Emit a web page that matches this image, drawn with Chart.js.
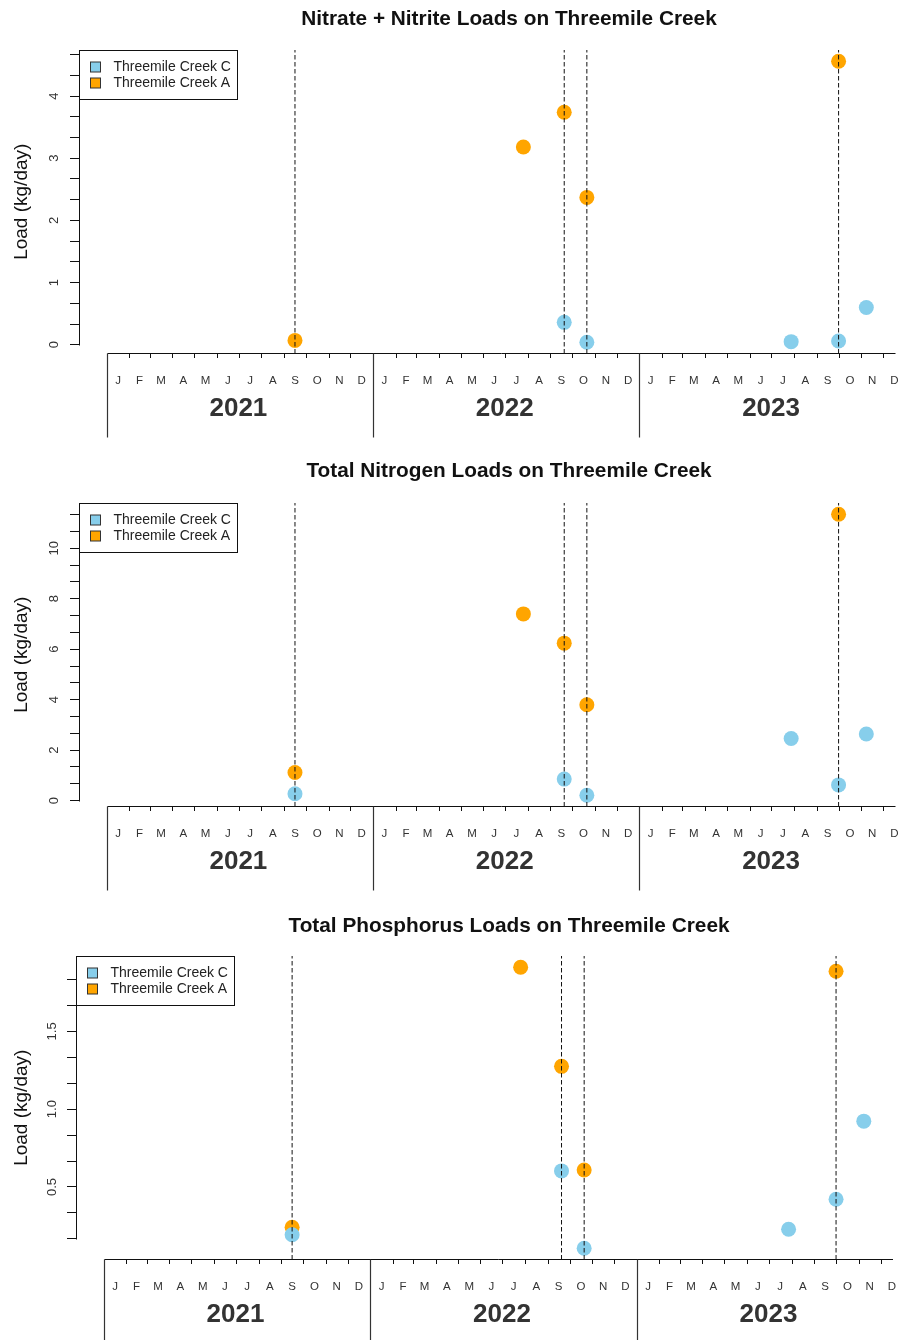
<!DOCTYPE html>
<html>
<head>
<meta charset="utf-8">
<title>Threemile Creek Loads</title>
<script src="https://cdn.jsdelivr.net/npm/chart.js@4.4.1/dist/chart.umd.min.js"></script>
<style>
  html, body { margin: 0; padding: 0; background: #ffffff; }
  #page { position: relative; width: 903px; height: 1340px; overflow: hidden; }
  .panel { position: absolute; left: 0; width: 903px; }
  .panel h2 {
    position: absolute; margin: 0; left: 115px; width: 788px; height: 24px;
    text-align: center; white-space: nowrap; color: #111;
    font: bold 20.8px "Liberation Sans", Arial, sans-serif; line-height: 24px;
  }
  .panel canvas { position: absolute; left: 0; top: 0; }
</style>
</head>
<body>
<div id="page"></div>
<script>
// ---- Data: sampling dates and daily loads (kg/day) at the two sites ----
const seriesNames = ['Threemile Creek C', 'Threemile Creek A'];
const monthLabels = ['J', 'F', 'M', 'A', 'M', 'J', 'J', 'A', 'S', 'O', 'N', 'D'];
const yearLabels = ['2021', '2022', '2023'];
const eventDates = ['2021-09-16', '2022-09-20', '2022-10-21', '2023-10-01'];

const no3DatesC = ['2022-09-20', '2022-10-21', '2023-07-28', '2023-10-01', '2023-11-08'];
const no3LoadC  = [0.36, 0.04, 0.05, 0.06, 0.60];
const no3DatesA = ['2021-09-16', '2022-07-26', '2022-09-20', '2022-10-21', '2023-10-01'];
const no3LoadA  = [0.07, 3.18, 3.74, 2.37, 4.56];

const tnDatesC = ['2021-09-16', '2022-09-20', '2022-10-21', '2023-07-28', '2023-10-01', '2023-11-08'];
const tnLoadC  = [0.27, 0.85, 0.21, 2.46, 0.62, 2.64];
const tnDatesA = ['2021-09-16', '2022-07-26', '2022-09-20', '2022-10-21', '2023-10-01'];
const tnLoadA  = [1.11, 7.40, 6.24, 3.80, 11.35];

const tpDatesC = ['2021-09-16', '2022-09-20', '2022-10-21', '2023-07-28', '2023-10-01', '2023-11-08'];
const tpLoadC  = [0.193, 0.603, 0.106, 0.228, 0.421, 0.923];
const tpDatesA = ['2021-09-16', '2022-07-26', '2022-09-20', '2022-10-21', '2023-10-01'];
const tpLoadA  = [0.241, 1.912, 1.275, 0.609, 1.886];

const panelTitles = [
  'Nitrate + Nitrite Loads on Threemile Creek',
  'Total Nitrogen Loads on Threemile Creek',
  'Total Phosphorus Loads on Threemile Creek'
];
const yAxisTitle = 'Load (kg/day)';
const yMajorSteps = [1, 2, 0.5];
const yLabelDecimals = [0, 0, 1];
const xRange = ['2020-11-24', '2023-12-18'];

// ---- Styling ----
const FONT = '"Liberation Sans", Arial, Helvetica, sans-serif';
const COLOR_C = '#87CEEB';
const COLOR_A = '#FFA500';
Chart.defaults.font.family = FONT;

const panels = [
  { title: panelTitles[0], datesC: no3DatesC, loadC: no3LoadC, datesA: no3DatesA, loadA: no3LoadA,
    major: yMajorSteps[0], decimals: yLabelDecimals[0], top: 0, height: 453, titleTop: 6,
    axisLeft: 79, plotRight: 898, labelPad: 11.5 },
  { title: panelTitles[1], datesC: tnDatesC, loadC: tnLoadC, datesA: tnDatesA, loadA: tnLoadA,
    major: yMajorSteps[1], decimals: yLabelDecimals[1], top: 453, height: 453, titleTop: 5,
    axisLeft: 79, plotRight: 898, labelPad: 8 },
  { title: panelTitles[2], datesC: tpDatesC, loadC: tpLoadC, datesA: tpDatesA, loadA: tpLoadA,
    major: yMajorSteps[2], decimals: yLabelDecimals[2], top: 906, height: 434, titleTop: 7,
    axisLeft: 76, plotRight: 893, labelPad: 6 }
];

const DAY0 = Date.UTC(2021, 0, 1);
const toDay = s => (Date.parse(s + 'T00:00:00Z') - DAY0) / 86400000;
const utcDay = (y, m, d) => (Date.UTC(y, m, d) - DAY0) / 86400000;

// R-style axis range: data range widened by 4% on each side
function paddedRange(vals) {
  const lo = Math.min(...vals), hi = Math.max(...vals), e = (hi - lo) * 0.04;
  return [lo - e, hi + e];
}

// Draws the detached y axis line, the month/year axis band and the boxed legend
const rStylePlugin = {
  id: 'rStyle',
  afterDraw(chart) {
    const { ctx, chartArea: ca, scales: { x, y } } = chart;
    ctx.save();

    // y axis line spanning the outermost tick marks
    const ticks = y.ticks;
    const ax = Math.round(ca.left) + 0.5;
    ctx.strokeStyle = '#111';
    ctx.lineWidth = 1;
    ctx.beginPath();
    ctx.moveTo(ax, Math.round(y.getPixelForValue(ticks[0].value)) + 0.5);
    ctx.lineTo(ax, Math.round(y.getPixelForValue(ticks[ticks.length - 1].value)) + 0.5);
    ctx.stroke();

    // time axis: base line, month ticks, year separators, labels
    const base = Math.round(ca.bottom - 0.5) + 0.5;
    const firstYear = Number(yearLabels[0]);
    const xStart = Math.round(x.getPixelForValue(utcDay(firstYear, 0, 1))) + 0.5;
    ctx.beginPath();
    ctx.moveTo(xStart, base);
    ctx.lineTo(ca.right, base);
    ctx.stroke();

    yearLabels.forEach((label, yi) => {
      const yr = firstYear + yi;
      for (let m = 0; m < 12; m++) {
        const d0 = utcDay(yr, m, 1), d1 = utcDay(yr, m + 1, 1);
        const px = Math.round(x.getPixelForValue(d0)) + 0.5;
        ctx.beginPath();
        if (m === 0) {
          ctx.strokeStyle = '#333';
          ctx.lineWidth = 1.2;
          ctx.moveTo(px, base);
          ctx.lineTo(px, base + 84);
        } else {
          ctx.strokeStyle = '#111';
          ctx.lineWidth = 1;
          ctx.moveTo(px, base);
          ctx.lineTo(px, base + 4.5);
        }
        ctx.stroke();

        ctx.fillStyle = '#333';
        ctx.font = '11.5px ' + FONT;
        ctx.textAlign = 'center';
        ctx.textBaseline = 'middle';
        ctx.fillText(monthLabels[m], x.getPixelForValue((d0 + d1) / 2), base + 27);
      }
      const ymid = (utcDay(yr, 0, 1) + utcDay(yr + 1, 0, 1)) / 2;
      ctx.fillStyle = '#333';
      ctx.font = 'bold 26px ' + FONT;
      ctx.fillText(label, x.getPixelForValue(ymid) - 1.5, base + 55);
    });

    // legend box in the top-left corner of the plot region
    const items = chart.data.datasets.filter(ds => ds.inLegend);
    const lx = Math.round(ca.left) + 0.5, ly = Math.round(ca.top) + 0.5;
    ctx.fillStyle = '#ffffff';
    ctx.fillRect(lx, ly, 158, 49);
    ctx.strokeStyle = '#111';
    ctx.lineWidth = 1;
    ctx.strokeRect(lx, ly, 158, 49);
    items.forEach((ds, i) => {
      const cy = ly + 16.5 + i * 16.3;
      ctx.fillStyle = ds.pointBackgroundColor;
      ctx.fillRect(lx + 11, Math.round(cy - 5), 10, 10);
      ctx.strokeStyle = '#333';
      ctx.strokeRect(lx + 11, Math.round(cy - 5), 10, 10);
      ctx.fillStyle = '#222';
      ctx.font = '14px ' + FONT;
      ctx.textAlign = 'left';
      ctx.textBaseline = 'middle';
      ctx.fillText(ds.label, lx + 34, cy);
    });
    ctx.restore();
  }
};

const page = document.getElementById('page');

panels.forEach(p => {
  const wrap = document.createElement('div');
  wrap.className = 'panel';
  wrap.style.top = p.top + 'px';
  wrap.style.height = p.height + 'px';
  const h = document.createElement('h2');
  h.textContent = p.title;
  h.style.top = p.titleTop + 'px';
  const canvas = document.createElement('canvas');
  canvas.width = 903;
  canvas.height = p.height;
  canvas.style.width = '903px';
  canvas.style.height = p.height + 'px';
  wrap.appendChild(canvas);
  wrap.appendChild(h);
  page.appendChild(wrap);

  const [yMin, yMax] = paddedRange(p.loadC.concat(p.loadA));
  const step = p.major / 3;

  const pointSet = (label, dates, loads, color, order) => ({
    label, order, inLegend: true,
    data: dates.map((d, i) => ({ x: toDay(d), y: loads[i] })),
    pointBackgroundColor: color, pointBorderColor: color, backgroundColor: color,
    pointBorderWidth: 0, pointRadius: 7.5, pointHoverRadius: 7.5, showLine: false
  });

  const guides = eventDates.map(d => ({
    label: d, order: 0, inLegend: false,
    data: [{ x: toDay(d), y: yMin }, { x: toDay(d), y: yMax }],
    showLine: true, borderColor: '#111', borderWidth: 1, borderDash: [4.5, 2.5],
    pointRadius: 0, pointHoverRadius: 0, fill: false
  }));

  new Chart(canvas, {
    type: 'scatter',
    data: {
      datasets: [
        pointSet(seriesNames[0], p.datesC, p.loadC, COLOR_C, 1),
        pointSet(seriesNames[1], p.datesA, p.loadA, COLOR_A, 2),
        ...guides
      ]
    },
    options: {
      responsive: false,
      animation: false,
      devicePixelRatio: 1,
      events: [],
      layout: { padding: { top: 50, bottom: p.height - 353.5, left: 0, right: 903 - p.plotRight } },
      plugins: { legend: { display: false }, tooltip: { enabled: false }, title: { display: false } },
      scales: {
        x: { type: 'linear', display: false, min: toDay(xRange[0]), max: toDay(xRange[1]) },
        y: {
          type: 'linear', position: 'left', min: yMin, max: yMax, bounds: 'data',
          afterBuildTicks: scale => {
            const out = [];
            const k0 = Math.ceil(yMin / step - 1e-9), k1 = Math.floor(yMax / step + 1e-9);
            for (let k = k0; k <= k1; k++) out.push({ value: k * step });
            scale.ticks = out;
          },
          afterFit: scale => { scale.width = p.axisLeft; },
          border: { display: false },
          grid: { display: true, drawOnChartArea: false, drawTicks: true, tickLength: 9, color: '#111', lineWidth: 1 },
          ticks: {
            autoSkip: false, minRotation: 90, maxRotation: 90, crossAlign: 'center',
            padding: p.labelPad, color: '#333', font: { size: 13 },
            callback: value => {
              const r = value / p.major;
              return Math.abs(r - Math.round(r)) < 1e-6 ? value.toFixed(p.decimals) : '';
            }
          },
          title: { display: true, text: yAxisTitle, color: '#111', font: { size: 19 }, padding: { top: 10, bottom: 0 } }
        }
      }
    },
    plugins: [rStylePlugin]
  });
});
</script>
</body>
</html>
